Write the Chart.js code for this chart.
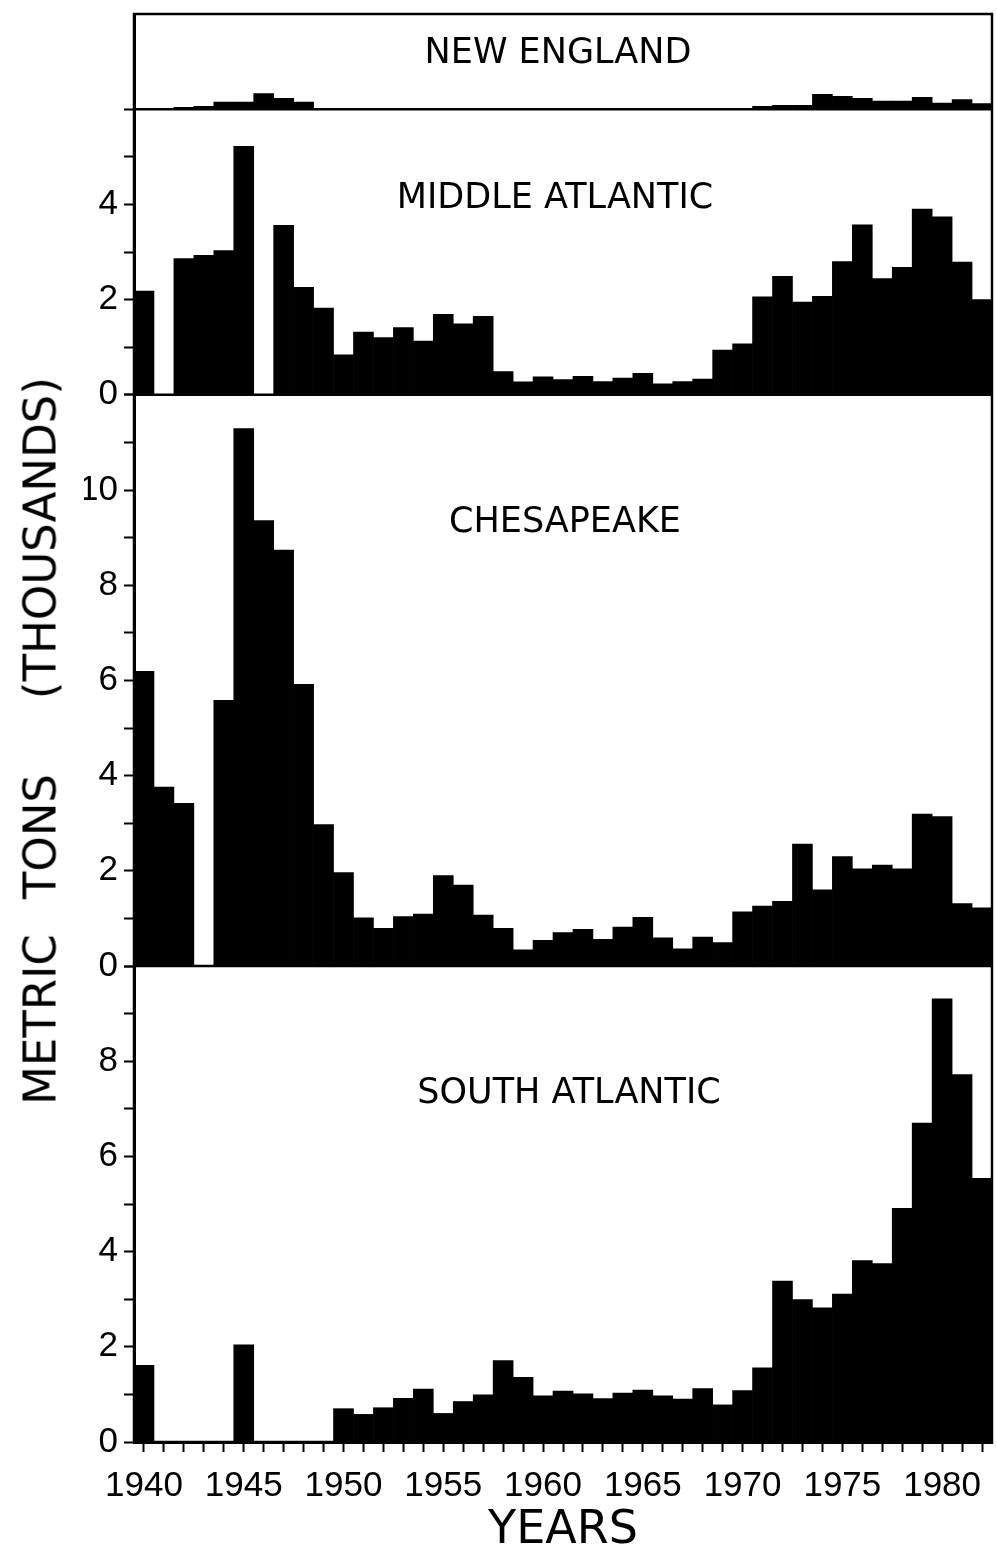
<!DOCTYPE html>
<html>
<head>
<meta charset="utf-8">
<script src="https://cdn.jsdelivr.net/npm/chart.js@4.4.1/dist/chart.umd.min.js"></script>
<style>
  html, body { margin: 0; padding: 0; background: #fff; }
  #wrap { position: relative; width: 997px; height: 1549px; }
  #yTitle {
    position: absolute; left: 40px; top: 741px;
    transform: translate(-50%, -50%) rotate(-90deg);
    white-space: nowrap; font: 45px "DejaVu Sans", sans-serif; line-height: 1; color: #000;
  }
  #yTitle .sp1 { display: inline-block; width: 35px; }
  #yTitle .sp2 { display: inline-block; width: 75px; }
</style>
</head>
<body>
<div id="wrap">
  <canvas id="chart" width="997" height="1549"></canvas>
  <div id="yTitle">METRIC<span class="sp1"></span>TONS<span class="sp2"></span>(THOUSANDS)</div>
</div>
<script>
const years = [
  "1940", "1941", "1942", "1943", "1944", "1945", "1946", "1947", "1948", "1949",
  "1950", "1951", "1952", "1953", "1954", "1955", "1956", "1957", "1958", "1959",
  "1960", "1961", "1962", "1963", "1964", "1965", "1966", "1967", "1968", "1969",
  "1970", "1971", "1972", "1973", "1974", "1975", "1976", "1977", "1978", "1979",
  "1980", "1981", "1982"
];
const yearTicks = ["1940", "1945", "1950", "1955", "1960", "1965", "1970", "1975", "1980"];

// thousands of metric tons
const newEngland = [
  0, 0, 0.04, 0.06, 0.15, 0.15, 0.33, 0.23, 0.15, 0,
  0, 0, 0, 0, 0, 0, 0, 0, 0, 0,
  0, 0, 0, 0, 0, 0, 0, 0, 0, 0,
  0.02, 0.06, 0.08, 0.08, 0.31, 0.27, 0.23, 0.17, 0.17, 0.25,
  0.13, 0.2, 0.12
];
const middleAtlantic = [
  2.18, 0, 2.86, 2.93, 3.03, 5.22, 0, 3.56, 2.26, 1.82,
  0.84, 1.32, 1.20, 1.41, 1.13, 1.69, 1.49, 1.65, 0.49, 0.27,
  0.38, 0.32, 0.39, 0.28, 0.35, 0.45, 0.23, 0.28, 0.33, 0.94,
  1.07, 2.06, 2.49, 1.95, 2.07, 2.80, 3.57, 2.44, 2.68, 3.90,
  3.74, 2.79, 2.00
];
const chesapeake = [
  6.19, 3.76, 3.42, 0, 5.58, 11.29, 9.36, 8.74, 5.92, 2.97,
  1.96, 1.01, 0.79, 1.04, 1.09, 1.90, 1.70, 1.07, 0.79, 0.34,
  0.54, 0.70, 0.77, 0.56, 0.82, 1.02, 0.59, 0.36, 0.61, 0.49,
  1.14, 1.26, 1.36, 2.56, 1.60, 2.30, 2.04, 2.12, 2.04, 3.19,
  3.14, 1.31, 1.22
];
const southAtlantic = [
  1.61, 0, 0, 0, 0, 2.04, 0, 0, 0, 0,
  0.70, 0.58, 0.72, 0.92, 1.11, 0.60, 0.85, 0.99, 1.71, 1.36,
  0.97, 1.07, 1.01, 0.91, 1.03, 1.09, 0.97, 0.90, 1.12, 0.78,
  1.08, 1.56, 3.38, 2.99, 2.82, 3.11, 3.81, 3.75, 4.91, 6.70,
  9.31, 7.72, 5.54
];

const panelIds = ["yNE", "yMA", "yCH", "ySA"];
const panelNames = ["NEW ENGLAND", "MIDDLE ATLANTIC", "CHESAPEAKE", "SOUTH ATLANTIC"];
const panelSeries = [newEngland, middleAtlantic, chesapeake, southAtlantic];
const panelMax = [2, 6, 12, 10];

// layout of the panel captions (centre x, distance of centre below panel top)
const captionX = [558, 555, 565, 569];
const captionDy = [36, 86, 124, 124];

const tickFont = { family: "Liberation Sans", size: 35 };

function yScale(i) {
  const max = panelMax[i];
  const isNE = i === 0;
  return {
    type: "linear",
    position: "left",
    stack: "panels",
    stackWeight: max,
    weight: 4 - i,
    min: 0,
    max: max,
    border: { display: true, color: "#000", width: 3 },
    grid: {
      drawOnChartArea: false,
      drawTicks: !isNE,
      tickLength: 10,
      tickColor: "#000",
      tickWidth: 2,
    },
    ticks: {
      display: !isNE,
      stepSize: 1,
      autoSkip: false,
      padding: 6,
      color: "#000",
      font: tickFont,
      callback: (v) => (v % 2 === 0 && v !== max ? String(v) : ""),
    },
    afterFit: (s) => {
      s.width = 50;
      s.paddingTop = 0;
      s.paddingBottom = 0;
    },
  };
}

const panelFrame = {
  id: "panelFrame",
  afterDraw(chart) {
    const { ctx, chartArea: a } = chart;
    ctx.save();
    ctx.strokeStyle = "#000";
    ctx.lineWidth = 2.5;
    ctx.strokeRect(a.left, a.top, a.right - a.left, a.bottom - a.top);
    ctx.fillStyle = "#000";
    ctx.font = '35px "DejaVu Sans"';
    ctx.textAlign = "center";
    ctx.textBaseline = "alphabetic";
    panelIds.forEach((id, i) => {
      const s = chart.scales[id];
      if (i > 0) {
        ctx.beginPath();
        ctx.moveTo(a.left, s.top);
        ctx.lineTo(a.right, s.top);
        ctx.stroke();
      }
      ctx.fillText(panelNames[i], captionX[i], s.top + captionDy[i] + 13);
    });
    ctx.restore();
  },
};

const scales = {
  x: {
    type: "category",
    offset: true,
    border: { display: true, color: "#000", width: 3 },
    grid: {
      offset: false,
      drawOnChartArea: false,
      tickLength: 10,
      tickColor: "#000",
      tickWidth: 2,
    },
    ticks: {
      autoSkip: false,
      maxRotation: 0,
      padding: 13,
      color: "#000",
      font: tickFont,
      callback: function (v) {
        const lab = this.getLabelForValue(v);
        return yearTicks.includes(lab) ? lab : "";
      },
    },
    title: {
      display: true,
      text: "YEARS",
      color: "#000",
      font: { family: "DejaVu Sans", size: 46, lineHeight: 1 },
      padding: { top: 0, bottom: -5 },
    },
    afterFit: (s) => { s.height = 107; },
  },
};
panelIds.forEach((id, i) => { scales[id] = yScale(i); });

new Chart(document.getElementById("chart"), {
  type: "bar",
  data: {
    labels: years,
    datasets: panelIds.map((id, i) => ({
      label: panelNames[i],
      data: panelSeries[i],
      yAxisID: id,
      backgroundColor: "#000",
      borderWidth: 0,
      barPercentage: 1,
      categoryPercentage: 1,
      grouped: false,
    })),
  },
  options: {
    responsive: false,
    animation: false,
    devicePixelRatio: 1,
    layout: { padding: { left: 84, right: 5, top: 14, bottom: 0 } },
    plugins: { legend: { display: false }, tooltip: { enabled: false } },
    scales: scales,
  },
  plugins: [panelFrame],
});
</script>
</body>
</html>
